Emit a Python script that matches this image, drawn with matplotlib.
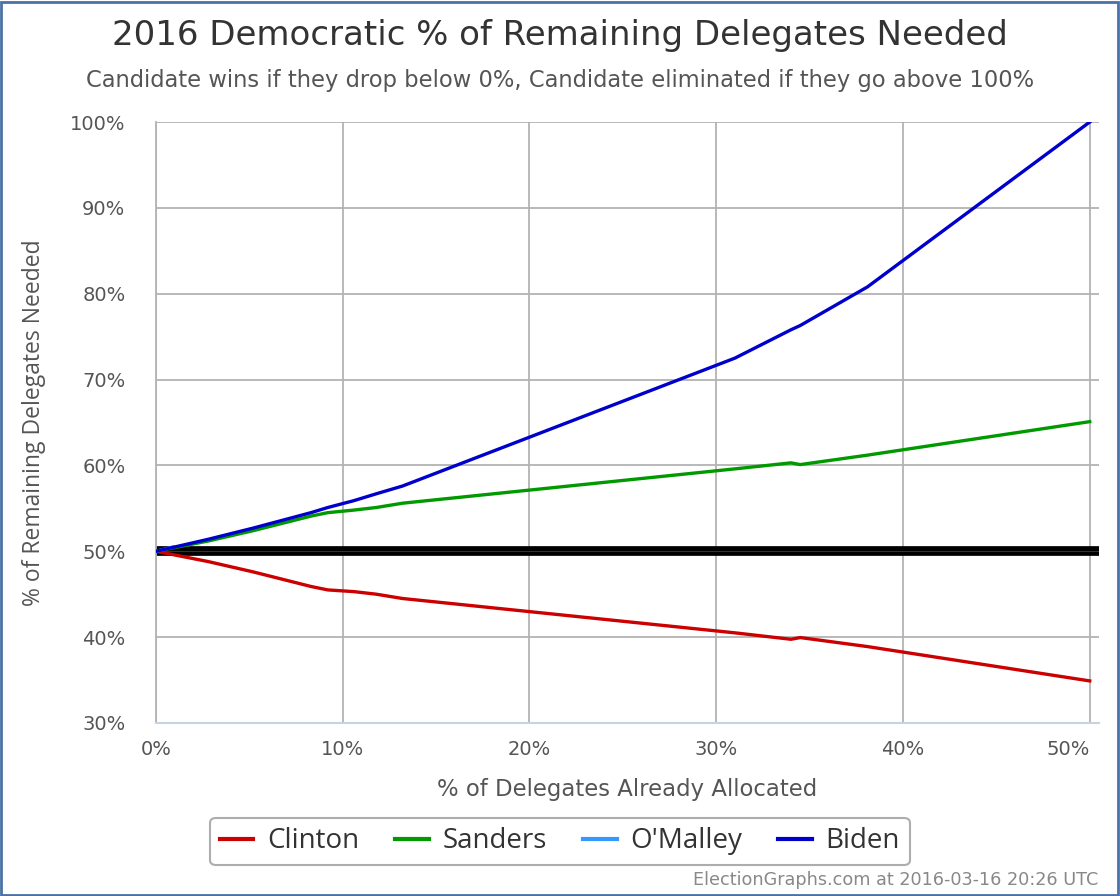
import matplotlib
matplotlib.use("Agg")
import matplotlib.pyplot as plt
from matplotlib.patches import Rectangle
from matplotlib.ticker import FuncFormatter

# x = % of delegates already allocated, y = % of remaining delegates needed
clinton_x = [0, 2.8, 5.2, 8.3, 9.2, 10.6, 11.8, 13.2, 31.0, 34.0, 34.5, 38.1, 50.0]
clinton_y = [50, 48.8, 47.6, 45.9, 45.5, 45.3, 45.0, 44.5, 40.5, 39.75, 39.95, 38.9, 34.9]

sanders_x = [0, 2.8, 5.2, 8.3, 9.2, 10.6, 11.8, 13.2, 31.0, 34.0, 34.5, 38.1, 50.0]
sanders_y = [50, 51.2, 52.4, 54.1, 54.5, 54.8, 55.1, 55.6, 59.6, 60.3, 60.1, 61.2, 65.1]

omalley_x = [0, 0.9]
omalley_y = [50, 50.5]

biden_x = [0, 2.8, 5.2, 8.3, 9.2, 10.6, 11.8, 13.2, 31.0, 34.0, 34.5, 38.1, 50.0]
biden_y = [50, 51.4, 52.7, 54.5, 55.1, 55.9, 56.7, 57.6, 72.5, 75.8, 76.3, 80.8, 100]

x_ticks = [0, 10, 20, 30, 40, 50]
y_ticks = [30, 40, 50, 60, 70, 80, 90, 100]

TXT = "#555555"
GRID = "#b3b3b3"

fig = plt.figure(figsize=(11.2, 8.96), dpi=100)
fig.patch.set_facecolor("white")
fig.patches.append(Rectangle((0.001, 0.001), 0.997, 0.997, transform=fig.transFigure,
                             fill=False, edgecolor="#4a72a6", linewidth=2))

ax = fig.add_axes([0.1393, 0.1931, 0.8420, 0.6707])

ax.axhline(50, color="black", linewidth=7, zorder=2)
ax.axhline(50, color="#333333", linewidth=0.8, zorder=2)

ax.plot(clinton_x, clinton_y, color="#cc0000", linewidth=2.4, label="Clinton", zorder=3)
ax.plot(sanders_x, sanders_y, color="#009900", linewidth=2.4, label="Sanders", zorder=3)
ax.plot(omalley_x, omalley_y, color="#3399ff", linewidth=2.4, label="O'Malley", zorder=3)
ax.plot(biden_x, biden_y, color="#0000cc", linewidth=2.4, label="Biden", zorder=4)

ax.set_xlim(0, 50.5)
ax.set_ylim(30, 100)
ax.set_xticks(x_ticks)
ax.set_yticks(y_ticks)
ax.xaxis.set_major_formatter(FuncFormatter(lambda v, p: f"{v:.0f}%"))
ax.yaxis.set_major_formatter(FuncFormatter(lambda v, p: f"{v:.0f}%"))
ax.grid(True, color=GRID, linewidth=1.3)
ax.set_axisbelow(True)
ax.tick_params(axis="both", length=0, labelsize=14, colors=TXT)
ax.tick_params(axis="y", pad=22)
ax.tick_params(axis="x", pad=12)
for lab in ax.get_yticklabels():
    lab.set_horizontalalignment("right")
ax.get_xticklabels()[-1].set_horizontalalignment("right")

for s in ["top", "right"]:
    ax.spines[s].set_visible(False)
ax.spines["left"].set_color(GRID)
ax.spines["left"].set_linewidth(1.3)
ax.spines["bottom"].set_color("#c5d3e2")
ax.spines["bottom"].set_linewidth(1.5)

ax.set_xlabel("% of Delegates Already Allocated", fontsize=16.4, color=TXT, labelpad=14)
ax.set_ylabel("% of Remaining Delegates Needed", fontsize=16.5, color=TXT, labelpad=17,
              family=["Open Sans", "DejaVu Sans"])

fig.text(0.5, 0.960, "2016 Democratic % of Remaining Delegates Needed",
         ha="center", va="center", fontsize=24.5, color="#333333")
fig.text(0.5, 0.910, "Candidate wins if they drop below 0%, Candidate eliminated if they go above 100%",
         ha="center", va="center", fontsize=16.3, color=TXT)
fig.text(0.981, 0.018, "ElectionGraphs.com at 2016-03-16 20:26 UTC",
         ha="right", va="center", fontsize=12.7, color="#888888")

leg = fig.legend(loc="center", bbox_to_anchor=(0.5, 0.061), ncol=4,
                 frameon=True, fancybox=True, edgecolor="#999999", handlelength=1.2,
                 columnspacing=1.3, borderpad=0.35, handletextpad=0.5,
                 prop={"family": ["Open Sans", "DejaVu Sans"], "size": 20})
leg.get_frame().set_linewidth(1.5)
for t in leg.get_texts():
    t.set_color("#333333")
for h in leg.legend_handles:
    h.set_linewidth(3)

fig.savefig("out.png", dpi=100)
